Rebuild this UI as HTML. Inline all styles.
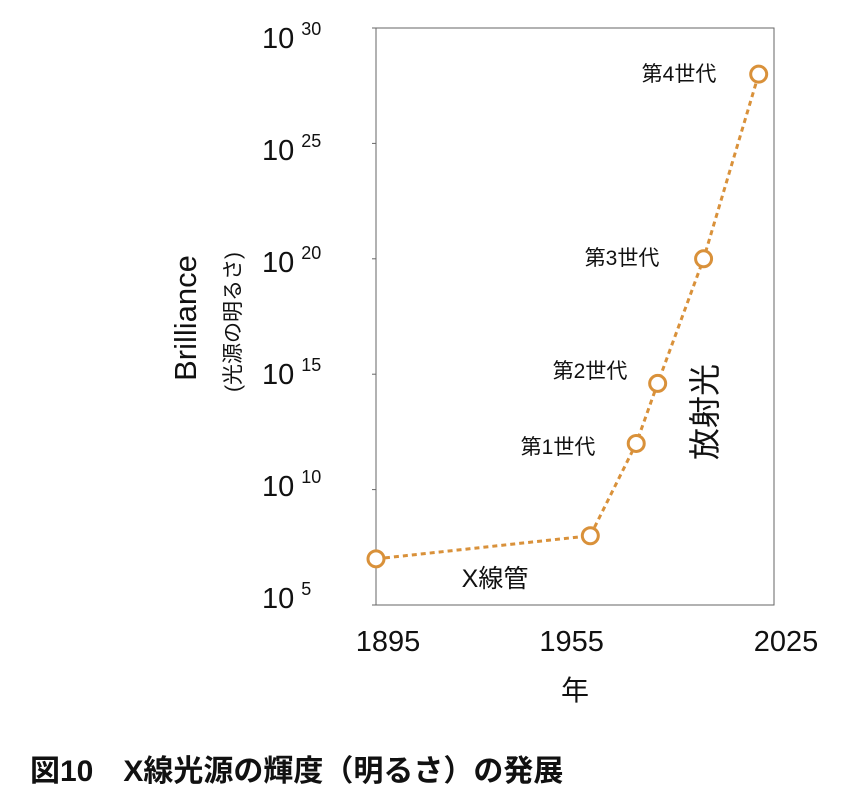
<!DOCTYPE html>
<html><head><meta charset="utf-8"><style>
body{margin:0;background:#fff;width:854px;height:806px;overflow:hidden}
svg text{font-family:"Liberation Sans","Noto Sans CJK JP",sans-serif;fill:#111}
</style></head><body>
<svg id="c" width="854" height="806">
<rect x="376" y="28" width="398" height="577" fill="none" stroke="#666" stroke-width="1"/>
<g id="ticks"></g>
<text transform="translate(196,318) rotate(-90)" text-anchor="middle" font-size="31">Brilliance</text>
<text transform="translate(240,322) rotate(-90)" text-anchor="middle" font-size="21">(光源の明るさ)</text>
<text x="575" y="700" text-anchor="middle" font-size="28">年</text>
<g id="marks"></g>
<text x="679" y="81" text-anchor="middle" font-size="21">第4世代</text>
<text x="622" y="265" text-anchor="middle" font-size="21">第3世代</text>
<text x="590" y="378" text-anchor="middle" font-size="21">第2世代</text>
<text x="558" y="454" text-anchor="middle" font-size="21">第1世代</text>
<text transform="translate(716,412) rotate(-90)" text-anchor="middle" font-size="32">放射光</text>
<text x="495" y="587" text-anchor="middle" font-size="25">X線管</text>
<text x="30" y="781" font-size="30" font-weight="bold">図10　X線光源の輝度（明るさ）の発展</text>
</svg>
<script>
const years=[1895,1965,1980,1987,2002,2020];
const logBrilliance=[7,8,12,14.6,20,28];
const yTicks=[5,10,15,20,25,30];
const xTicks=[1895,1955,2025];
const NS='http://www.w3.org/2000/svg';
function xs(v){return 376+(v-1895)/(2025-1895)*398;}
function ys(v){return 605-(v-5)/25*577;}
function mk(t,a,p){const e=document.createElementNS(NS,t);for(const k in a)e.setAttribute(k,a[k]);p.appendChild(e);return e;}
const tg=document.getElementById('ticks');
yTicks.forEach(v=>{
 const y=ys(v);
 const l=mk('line',{x1:372,x2:376,y1:y,y2:y,stroke:'#666'},tg);
 
 
 const t=mk('text',{x:262,y:y*0.97+21,'font-size':29},tg);
 
 
 t.textContent='10';
 const s=mk('tspan',{dx:7,dy:-13,'font-size':18},t);
 s.textContent=String(v);
});
xTicks.forEach(v=>{
 const t=mk('text',{x:xs(v)+12,y:651,'text-anchor':'middle','font-size':29},tg);
 
 
 t.textContent=String(v);
});
const mg=document.getElementById('marks');
const pts=years.map((y,i)=>xs(y)+','+ys(logBrilliance[i])).join(' ');
const pl=mk('polyline',{points:pts,fill:'none',stroke:'#d9913a','stroke-width':3,'stroke-dasharray':'5,4'},mg);


years.forEach((y,i)=>{
 const c=mk('circle',{cx:xs(y),cy:ys(logBrilliance[i]),r:8,fill:'#fff',stroke:'#d9913a','stroke-width':3},mg);
 
 
});
</script>
</body></html>
